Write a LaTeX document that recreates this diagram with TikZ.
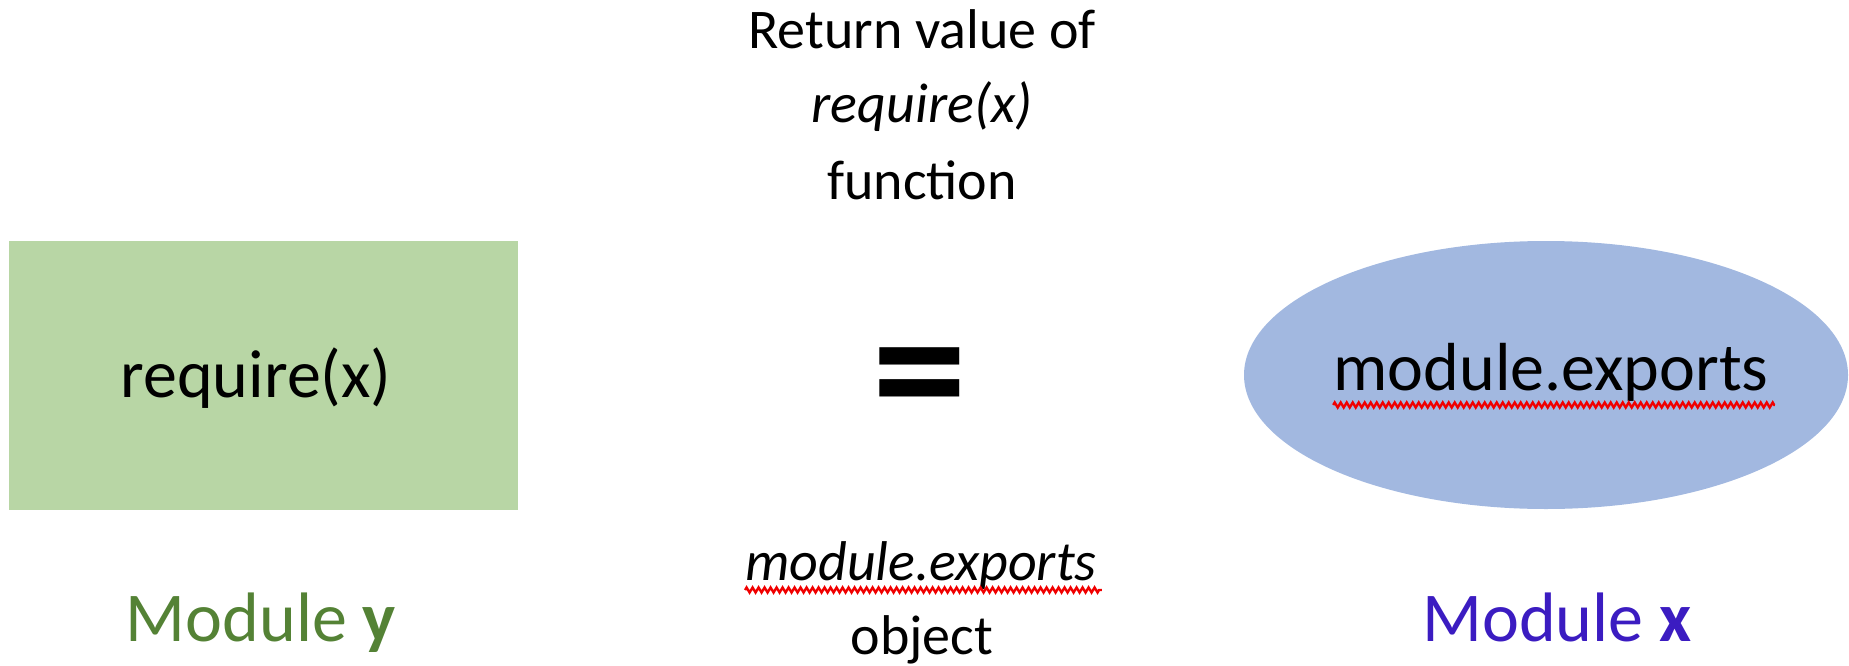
\documentclass[tikz,border=0pt]{standalone}
\usepackage{fontspec}
\setmainfont{Carlito}
\usetikzlibrary{shapes.geometric,decorations.pathmorphing}
\definecolor{boxgreen}{HTML}{B8D6A5}
\definecolor{ellblue}{HTML}{A2B8E0}
\definecolor{labgreen}{HTML}{548235}
\definecolor{labblue}{HTML}{3B1CC1}
\definecolor{squigred}{HTML}{F00000}
\tikzset{
  txt/.style={inner sep=0pt, anchor=base},
  big/.style={txt, font=\fontsize{68}{80}\selectfont},
  mid/.style={txt, font=\fontsize{56}{70}\selectfont},
  lab/.style={txt, font=\fontsize{70}{84}\selectfont},
  squig/.style={draw=squigred, line width=2.4pt, decorate,
    decoration={zigzag, segment length=6pt, amplitude=2.5pt}}
}
\begin{document}
\begin{tikzpicture}[x=1pt,y=-1pt]
\useasboundingbox (0,0) rectangle (1849,666);
% shapes
\node[rectangle, fill=boxgreen, inner sep=0pt, minimum width=509pt, minimum height=269pt] (rect) at (263.5,375.5) {};
\node[ellipse, fill=ellblue, inner sep=0pt, minimum width=604pt, minimum height=268pt] (ell) at (1546,375) {};
% texts in shapes
\node[big] (req) at (256,397) {require(x)};
\node[big] (mex) at (1551,390) {module.exports};
\draw[squig] ([yshift=-15pt]mex.base west) -- ([yshift=-15pt,xshift=6pt]mex.base east);
% equals
\node[txt, font=\fontsize{190}{200}\selectfont\bfseries] (eq) at (920,432) {=};
% top text
\node[mid] (t1) at (922,49) {Return value of};
\node[mid] (t2) at (922,123) {\itshape require(x)};
\node[mid] (t3) at (922,199) {function};
% bottom text
\node[mid] (b1) at (921,580) {\itshape module.exports};
\draw[squig] ([yshift=-10pt]b1.base west) -- ([yshift=-10pt,xshift=5pt]b1.base east);
\node[mid] (b2) at (922,654) {object};
% module labels
\node[lab, text=labgreen] (my) at (261,641) {Module \textbf{y}};
\node[lab, text=labblue] (mx) at (1557,641) {Module \textbf{x}};
\end{tikzpicture}
\end{document}
